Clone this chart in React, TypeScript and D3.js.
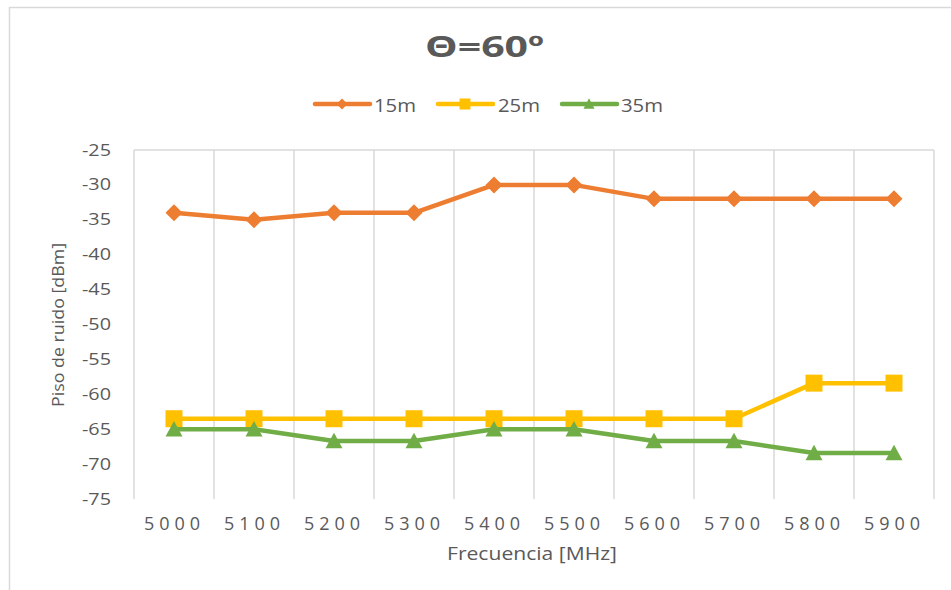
import React from "react";
import * as d3 from "d3";

const categories = ["5000", "5100", "5200", "5300", "5400", "5500", "5600", "5700", "5800", "5900"];
const series15m = [-34, -35, -34, -34, -30, -30, -32, -32, -32, -32];
const series25m = [-63.5, -63.5, -63.5, -63.5, -63.5, -63.5, -63.5, -63.5, -58.4, -58.4];
const series35m = [-65, -65, -66.7, -66.7, -65, -65, -66.7, -66.7, -68.4, -68.4];
const yTicks = [-25, -30, -35, -40, -45, -50, -55, -60, -65, -70, -75];

const seriesList = [
  { name: "15m", values: series15m, color: "#ED7D31", marker: "diamond" },
  { name: "25m", values: series25m, color: "#FFC000", marker: "square" },
  { name: "35m", values: series35m, color: "#70AD47", marker: "triangle" },
];

const W = 951;
const H = 590;
const FONT = "'Open Sans', 'Liberation Sans', sans-serif";
const TEXT = "#595959";
const GRID = "#D9D9D9";

const plot = { left: 134, right: 934, top: 150, bottom: 499 };

function Marker({ kind, x, y, color, s }: { kind: string; x: number; y: number; color: string; s: number }) {
  if (kind === "square") {
    return <rect x={x - s / 2} y={y - s / 2} width={s} height={s} fill={color} />;
  }
  if (kind === "diamond") {
    const r = s / 2;
    return <path d={`M${x},${y - r}L${x + r},${y}L${x},${y + r}L${x - r},${y}Z`} fill={color} />;
  }
  const r = s / 2;
  const h = s * 0.85;
  return <path d={`M${x},${y - h / 2 - 1}L${x + r},${y + h / 2}L${x - r},${y + h / 2}Z`} fill={color} />;
}

export default function App() {
  const x = d3.scaleBand<string>().domain(categories).range([plot.left, plot.right]);
  const y = d3.scaleLinear().domain([-75, -25]).range([plot.bottom, plot.top]);
  const cx = (c: string) => (x(c) as number) + x.bandwidth() / 2;

  const line = d3
    .line<number>()
    .x((_, i) => cx(categories[i]))
    .y((v) => y(v));

  const boundaries = categories.map((c) => x(c) as number).concat([plot.right]);

  const legendItems = [
    { lx: 315, tx: 374 },
    { lx: 438, tx: 498 },
    { lx: 562, tx: 621 },
  ];

  return (
    <svg
      width={W}
      height={H}
      style={{ position: "absolute", left: 0, top: 0, background: "#fff" }}
      fontFamily={FONT}
    >
      <rect x={0} y={0} width={W} height={H} fill="#fff" />
      {/* chart frame */}
      <path d={`M9.5,${H + 5}V7.5H${W + 5}`} fill="none" stroke={GRID} strokeWidth={1.5} />

      {/* title */}
      <text
        x={425}
        y={57}
        fontSize={29}
        fontWeight="bold"
        fill={TEXT}
        textLength={119}
        lengthAdjust="spacingAndGlyphs"
      >
        Θ=60º
      </text>

      {/* legend */}
      {seriesList.map((s, i) => {
        const it = legendItems[i];
        return (
          <g key={s.name}>
            <line x1={it.lx} x2={it.lx + 55} y1={104} y2={104} stroke={s.color} strokeWidth={4.5} strokeLinecap="round" />
            <Marker kind={s.marker} x={it.lx + 27} y={104} color={s.color} s={11} />
            <text
              x={it.tx}
              y={111.5}
              fontSize={18}
              fill={TEXT}
              textLength={42}
              lengthAdjust="spacingAndGlyphs"
            >
              {s.name}
            </text>
          </g>
        );
      })}

      {/* vertical gridlines */}
      {boundaries.map((bx, i) => (
        <line key={i} x1={bx} x2={bx} y1={plot.top} y2={plot.bottom} stroke={GRID} strokeWidth={1.5} />
      ))}
      <line x1={plot.left} x2={plot.right} y1={plot.top} y2={plot.top} stroke={GRID} strokeWidth={1.5} />

      {/* y-axis labels */}
      {yTicks.map((t) => (
        <text
          key={t}
          x={111 - 29}
          y={y(t) + 5.5}
          fontSize={16}
          fill={TEXT}
          textLength={29}
          lengthAdjust="spacingAndGlyphs"
        >
          {t}
        </text>
      ))}

      {/* x-axis labels */}
      {categories.map((c) => (
        <text
          key={c}
          x={cx(c) - 30}
          y={530}
          fontSize={18}
          fill={TEXT}
          textLength={56}
          lengthAdjust="spacing"
        >
          {c}
        </text>
      ))}

      {/* axis titles */}
      <text
        x={447}
        y={560}
        fontSize={18.5}
        fill={TEXT}
        textLength={170}
        lengthAdjust="spacingAndGlyphs"
      >
        Frecuencia [MHz]
      </text>
      <text
        transform={`translate(64,407) rotate(-90)`}
        fontSize={17}
        fill={TEXT}
        textLength={164}
        lengthAdjust="spacingAndGlyphs"
      >
        Piso de ruido [dBm]
      </text>

      {/* series */}
      {seriesList.map((s) => (
        <g key={s.name}>
          <path d={line(s.values) || ""} fill="none" stroke={s.color} strokeWidth={4.5} strokeLinejoin="round" />
          {s.values.map((v, i) => (
            <Marker key={i} kind={s.marker} x={cx(categories[i])} y={y(v)} color={s.color} s={17} />
          ))}
        </g>
      ))}
    </svg>
  );
}
